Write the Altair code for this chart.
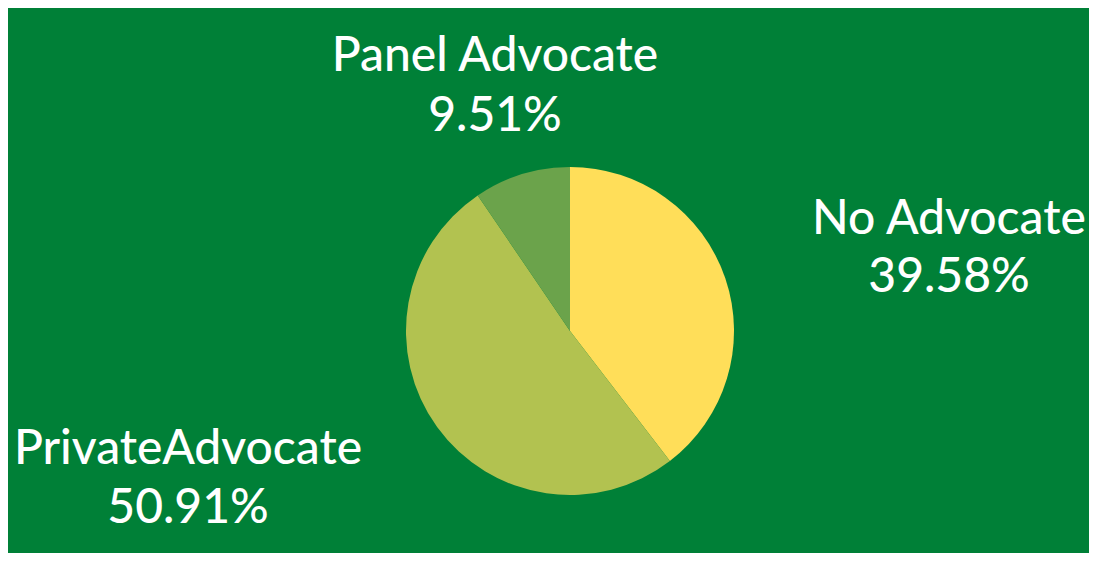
import altair as alt
import pandas as pd

categories = ["No Advocate", "PrivateAdvocate", "Panel Advocate"]
values = [39.58, 50.91, 9.51]
colors = ["#FFDE59", "#B2C250", "#6BA34B"]

df = pd.DataFrame({"category": categories, "value": values, "order": [0, 1, 2]})

BG = "#008037"
W, H = 1081, 545
CX, CY, R = 562, 323, 164

pie = alt.Chart(df).mark_arc(outerRadius=R, stroke=None).encode(
    theta=alt.Theta("value:Q", stack=True),
    color=alt.Color("category:N", scale=alt.Scale(domain=categories, range=colors), legend=None),
    order=alt.Order("order:Q"),
    x=alt.value(CX),
    y=alt.value(CY),
)

label_pos = {
    "Panel Advocate": (487, 63, 123),
    "No Advocate": (941, 226, 284),
    "PrivateAdvocate": (180, 456, 515),
}

FONT = "Lato"
FS = 48
layers = [pie]
base = alt.Chart(df).transform_calculate(pct="format(datum.value, '.2f') + '%'")
for cat, (lx, y1, y2) in label_pos.items():
    f = base.transform_filter(alt.datum.category == cat)
    layers.append(
        f.mark_text(font=FONT, fontSize=FS, color="white", align="center", baseline="alphabetic", fontWeight=500)
        .encode(text="category:N", x=alt.value(lx), y=alt.value(y1))
    )
    layers.append(
        f.mark_text(font=FONT, fontSize=FS, color="white", align="center", baseline="alphabetic", fontWeight=500)
        .encode(text="pct:N", x=alt.value(lx), y=alt.value(y2))
    )

chart = alt.layer(*layers).properties(
    width=W, height=H, background=BG, padding=0, autosize=alt.AutoSizeParams(type="none")
).configure_view(stroke=None)

chart.save("out.html", embed_options={"renderer": "svg", "actions": False})
